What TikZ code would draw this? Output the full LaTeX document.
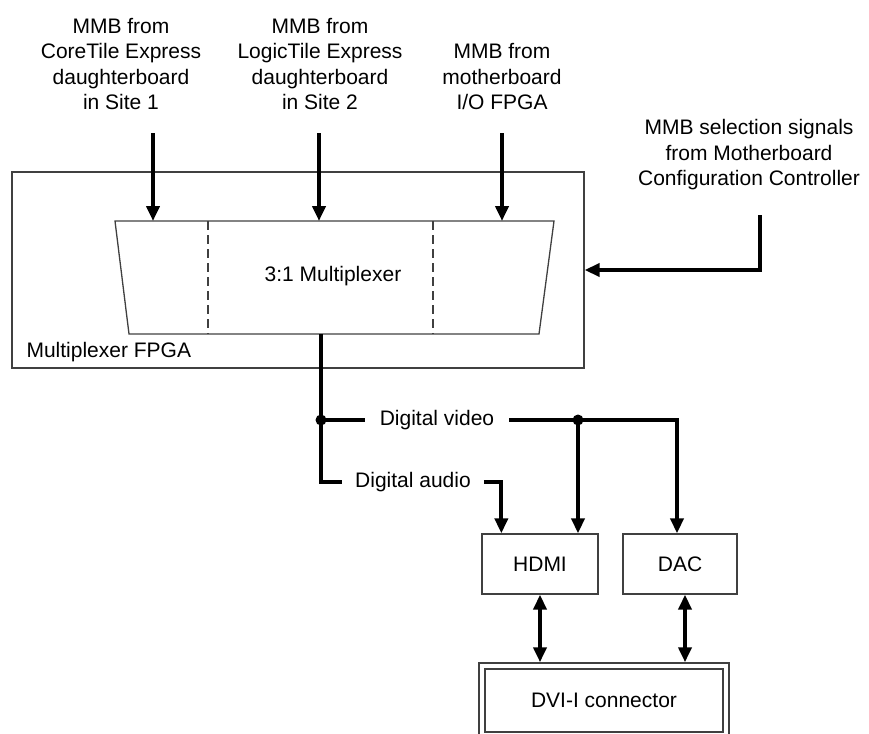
\documentclass[tikz,border=0pt]{standalone}
\usepackage{fontspec}
\setmainfont{Liberation Sans}
\usetikzlibrary{arrows.meta}
\definecolor{boxgray}{gray}{0.25}

\begin{document}
\begin{tikzpicture}[x=1pt, y=-1pt,
        every node/.style={font=\fontsize{21}{25.5}\selectfont, align=center},
        box/.style={draw=boxgray, line width=1.3pt},
        bus/.style={line width=4pt},
        sig/.style={bus, -{Triangle[length=15pt, width=13pt]}},
        bidir/.style={bus, {Triangle[length=15pt, width=13pt]}-{Triangle[length=15pt, width=13pt]}},
        dot/.style={circle, fill, inner sep=0pt, minimum size=11pt}]
    \useasboundingbox (0, 0) rectangle (869, 733);

    % sources
    \node (src1) at (121, 64) {MMB from\\CoreTile Express\\daughterboard\\in Site 1};
    \node (src2) at (320, 64) {MMB from\\LogicTile Express\\daughterboard\\in Site 2};
    \node (src3) at (502, 77) {MMB from\\motherboard\\I/O FPGA};
    \node (selsrc) at (749, 155) {MMB selection signals\\from Motherboard\\Configuration Controller};

    % FPGA and multiplexer
    \node[box, minimum width=572, minimum height=196] (fpga) at (298, 270) {};
    \node[anchor=west] (fpgalbl) at (23, 352) {Multiplexer FPGA};
    \coordinate (mtl) at (115, 221);
    \coordinate (mtr) at (554, 221);
    \coordinate (mbr) at (539, 334);
    \coordinate (mbl) at (129, 334);
    \draw[box] (mtl) -- (mtr) -- (mbr) -- (mbl) -- cycle;
    \foreach \x in {208, 433}
        \draw[box, dash pattern=on 9pt off 5pt] (\x, 221) -- (\x, 334);
    \node (muxlbl) at (333, 276) {3:1 Multiplexer};
    \coordinate (muxout) at (321, 334);

    \coordinate (in1) at (153, 133);
    \coordinate (in2) at (319, 133);
    \coordinate (in3) at (502, 133);
    \coordinate (sel) at (760, 215);
    \draw[sig] (in1) -- (in1 |- mtl);
    \draw[sig] (in2) -- (in2 |- mtl);
    \draw[sig] (in3) -- (in3 |- mtl);
    \draw[sig] (sel) |- (fpga.east);

    % outputs
    \node[dot] (jv) at (321, 420) {};
    \node[dot] (jv2) at (578, 420) {};
    \node[inner xsep=15pt] (vid) at (437, 420) {Digital video};
    \node[inner xsep=13pt] (aud) at (413, 482) {Digital audio};
    \node[box, minimum width=116, minimum height=60] (hdmi) at (540, 564) {HDMI};
    \node[box, minimum width=114, minimum height=60] (dac) at (680, 564) {DAC};
    \node[box, double=white, double distance=4.5pt, line width=1.5pt, outer sep=3.75pt,
        minimum width=244, minimum height=69] (dvi) at (604, 700.5) {DVI-I connector};

    \draw[bus] (muxout) |- (aud.west);
    \draw[bus] (jv.center) -- (vid.west);
    \draw[sig] (vid.east) -| ([xshift=-3pt]dac.north);
    \draw[sig] (jv2.center) -- (jv2 |- hdmi.north);
    \draw[sig] (aud.east) -| ([xshift=20pt]hdmi.north west);
    \draw[bidir] (hdmi.south) -- (hdmi.south |- dvi.north);
    \draw[bidir] ([xshift=5pt]dac.south) -- ([xshift=5pt]dac.south |- dvi.north);
\end{tikzpicture}
\end{document}
